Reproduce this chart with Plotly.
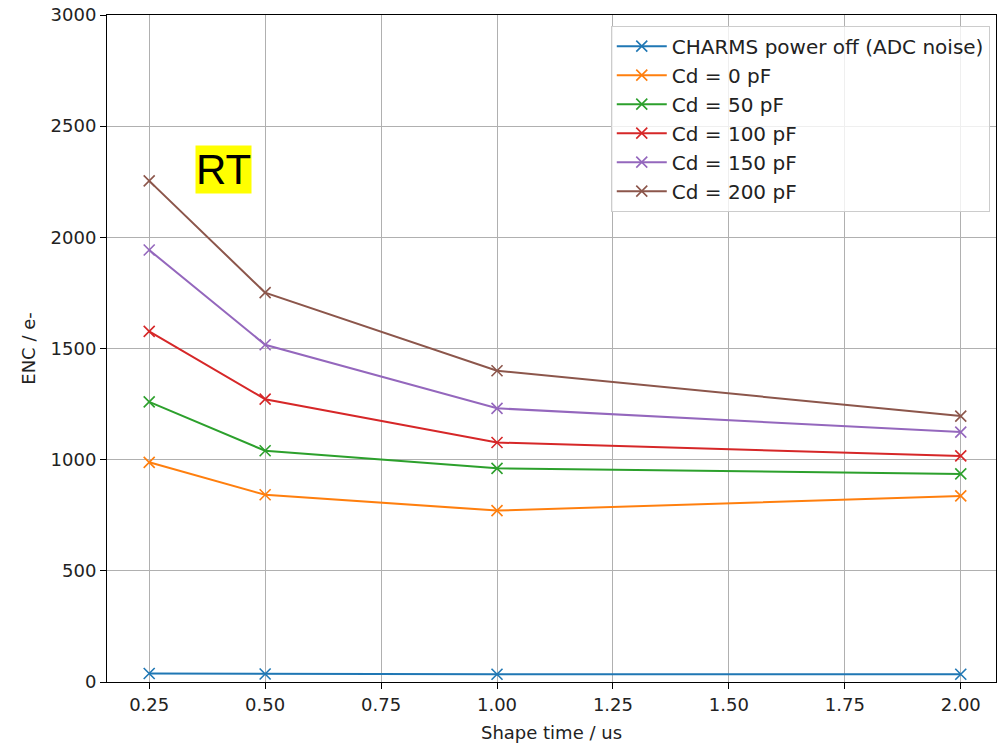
import plotly.graph_objects as go

shape_time = [0.25, 0.5, 1.0, 2.0]
series_names = ["CHARMS power off (ADC noise)", "Cd = 0 pF", "Cd = 50 pF",
                "Cd = 100 pF", "Cd = 150 pF", "Cd = 200 pF"]
adc_noise = [38, 36, 35, 35]
cd_0 = [988, 842, 771, 837]
cd_50 = [1260, 1040, 961, 936]
cd_100 = [1577, 1272, 1077, 1017]
cd_150 = [1943, 1517, 1231, 1124]
cd_200 = [2254, 1751, 1400, 1196]
colors = ["#1f77b4", "#ff7f0e", "#2ca02c", "#d62728", "#9467bd", "#8c564b"]
x_ticks = [0.25, 0.5, 0.75, 1.0, 1.25, 1.5, 1.75, 2.0]
x_tick_labels = ["0.25", "0.50", "0.75", "1.00", "1.25", "1.50", "1.75", "2.00"]
y_ticks = [0, 500, 1000, 1500, 2000, 2500, 3000]

all_series = [adc_noise, cd_0, cd_50, cd_100, cd_150, cd_200]

fig = go.Figure()
for name, vals, c in zip(series_names, all_series, colors):
    fig.add_trace(go.Scatter(
        x=shape_time, y=vals, name=name, mode="lines+markers",
        line=dict(color=c, width=2),
        marker=dict(symbol="x-thin-open", size=11, line=dict(color=c, width=1.6)),
    ))

fig.add_annotation(
    x=0.41, y=2303, xref="x", yref="y", text="RT", showarrow=False,
    font=dict(family="Liberation Sans, Arial, sans-serif", size=42, color="black"),
    bgcolor="#ffff00", borderpad=0,
)

axis_common = dict(
    showline=True, linecolor="black", linewidth=1, mirror=True,
    ticks="outside", ticklen=6, tickcolor="black",
    showgrid=True, gridcolor="#b0b0b0", gridwidth=1, zeroline=False,
)
font_main = "DejaVu Sans, sans-serif"

fig.update_layout(
    width=997, height=744,
    margin=dict(l=107, r=1, t=15, b=62),
    paper_bgcolor="white", plot_bgcolor="white",
    font=dict(family=font_main, size=18, color="#222"),
    xaxis=dict(range=[0.159, 2.076], tickvals=x_ticks, ticktext=x_tick_labels,
               tickfont=dict(family=font_main, size=18, color="#222"),
               title=dict(text="Shape time / us", standoff=12,
                          font=dict(family=font_main, size=18, color="#222")),
               **axis_common),
    yaxis=dict(range=[0, 3000], tickvals=y_ticks,
               tickfont=dict(family=font_main, size=18, color="#222"),
               title=dict(text="ENC / e-", standoff=10,
                          font=dict(family=font_main, size=18, color="#222")),
               **axis_common),
    legend=dict(x=0.993, y=0.984, xanchor="right", yanchor="top",
                bgcolor="rgba(255,255,255,0.8)", bordercolor="#cccccc", borderwidth=1,
                font=dict(family=font_main, size=20, color="#222"),
                tracegroupgap=0, itemwidth=50),
    showlegend=True,
)

fig.write_html("out.html")
